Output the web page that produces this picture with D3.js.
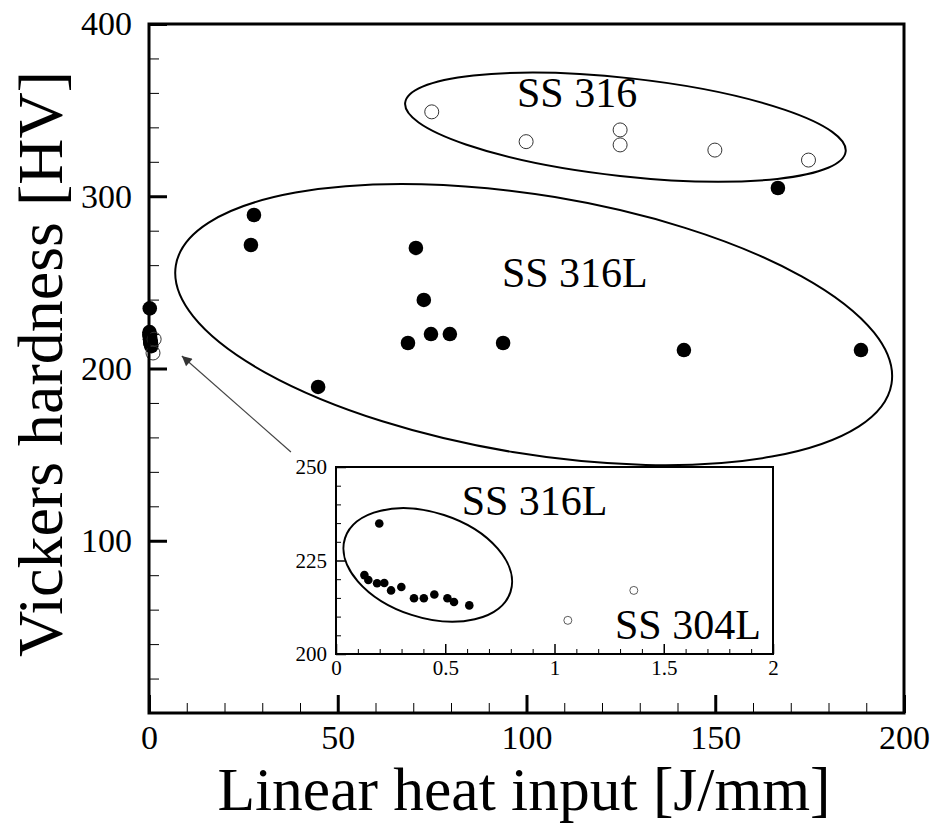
<!DOCTYPE html>
<html><head><meta charset="utf-8">
<script src="https://cdn.jsdelivr.net/npm/d3@7"></script>
<style>body{margin:0;background:#fff}svg{display:block}</style>
</head><body>
<svg id="c" width="931" height="823" font-family="Liberation Serif, Times New Roman, serif"></svg>
<script>
// ---- data ----
const ss316L_heat = [27.0, 27.8, 44.8, 68.6, 70.7, 72.8, 74.7, 79.7, 93.8, 141.7, 166.6, 188.6];
const ss316L_hv   = [271.7, 289.1, 189.3, 214.8, 270.0, 239.8, 220.0, 220.0, 214.8, 210.7, 304.8, 210.7];
const ss316_heat  = [74.9, 99.9, 124.8, 124.8, 149.9, 174.7];
const ss316_hv    = [349.0, 331.7, 338.5, 329.8, 326.8, 321.0];
// low heat input (inset)
const lowL_heat = [0.13, 0.148, 0.188, 0.221, 0.198, 0.252, 0.299, 0.357, 0.402, 0.45, 0.51, 0.54, 0.61];
const lowL_hv   = [221.1, 219.8, 218.9, 219.0, 234.9, 217.0, 217.9, 214.9, 214.9, 215.9, 214.9, 213.9, 213.0];
const ss304L_heat = [1.061, 1.363];
const ss304L_hv   = [209.0, 217.0];
const xTicks = [0, 50, 100, 150, 200];
const yTicks = [100, 200, 300, 400];
const insetXTicks = [0, 0.5, 1, 1.5, 2];
const insetYTicks = [200, 225, 250];

const SERIF = "Liberation Serif";
const svg = d3.select("#c");
const x = d3.scaleLinear().domain([0, 200]).range([149, 904]);
const y = d3.scaleLinear().domain([0, 400]).range([713, 24]);
const ix = d3.scaleLinear().domain([0, 2]).range([336, 773]);
const iy = d3.scaleLinear().domain([200, 250]).range([654, 467]);

function drawAxes(g, xs, ys, xt, yt, xMinorStep, yMinorStep, major, minor, fs, majW, xPad, yPad) {
  const [x0, x1] = xs.range(); const [y0, y1] = ys.range();
  const xd = xs.domain(), yd = ys.domain();
  const xMinor = d3.range(xd[0], xd[1] + 1e-9, xMinorStep).filter(v => !xt.some(t => Math.abs(t - v) < 1e-9));
  const yMinor = d3.range(yd[0], yd[1] + 1e-9, yMinorStep).filter(v => !yt.some(t => Math.abs(t - v) < 1e-9));
  const ax = g.append("g").attr("transform", `translate(0,${y0})`)
    .call(d3.axisBottom(xs).tickValues(xt).tickSize(-major).tickFormat(d3.format("")).tickPadding(xPad));
  ax.attr("font-family", SERIF).attr("font-size", fs);
  ax.select(".domain").remove();
  ax.selectAll("line").attr("stroke", "#000").attr("stroke-width", majW);
  ax.selectAll("text").attr("font-size", fs).attr("font-family", SERIF).attr("fill", "#000");
  const axm = g.append("g").attr("transform", `translate(0,${y0})`)
    .call(d3.axisBottom(xs).tickValues(xMinor).tickSize(-minor).tickFormat(""));
  axm.select(".domain").remove();
  axm.selectAll("line").attr("stroke", "#000").attr("stroke-width", 1);
  const ay = g.append("g").attr("transform", `translate(${x0},0)`)
    .call(d3.axisLeft(ys).tickValues(yt).tickSize(-major).tickFormat(d3.format("")).tickPadding(yPad));
  ay.attr("font-family", SERIF).attr("font-size", fs);
  ay.select(".domain").remove();
  ay.selectAll("line").attr("stroke", "#000").attr("stroke-width", majW);
  ay.selectAll("text").attr("font-size", fs).attr("font-family", SERIF).attr("fill", "#000");
  const aym = g.append("g").attr("transform", `translate(${x0},0)`)
    .call(d3.axisLeft(ys).tickValues(yMinor).tickSize(-minor).tickFormat(""));
  aym.select(".domain").remove();
  aym.selectAll("line").attr("stroke", "#000").attr("stroke-width", 1);
}

function ellipse(g, xs, ys, cx, cy, rx, ry, rot) {
  g.append("ellipse").attr("cx", 0).attr("cy", 0).attr("rx", rx).attr("ry", ry)
    .attr("transform", `translate(${xs(cx)},${ys(cy)}) rotate(${rot})`)
    .attr("fill", "none").attr("stroke", "#000").attr("stroke-width", 2);
}

// ---- main plot ----
const main = svg.append("g");
drawAxes(main, x, y, xTicks, yTicks, 10, 20, 18, 10, 34, 3, 12, 17);

ellipse(main, x, y, 126.2, 340.1, 221.6, 49.1, 6.3);
ellipse(main, x, y, 101.9, 225.5, 362.7, 129.2, 9.4);

// arrow
svg.append("defs").append("marker").attr("id", "ah").attr("viewBox", "0 0 10 10")
  .attr("refX", 10).attr("refY", 5).attr("markerWidth", 14).attr("markerHeight", 10)
  .attr("markerUnits", "userSpaceOnUse").attr("orient", "auto")
  .append("path").attr("d", "M0,0L10,5L0,10z").attr("fill", "#333");
main.append("line").attr("x1", x(37.6)).attr("y1", y(151.5)).attr("x2", x(8.7)).attr("y2", y(207.3))
  .attr("stroke", "#444").attr("stroke-width", 1.2).attr("marker-end", "url(#ah)");

const mainFilled = ss316L_heat.map((h, i) => [h, ss316L_hv[i]]).concat(lowL_heat.map((h, i) => [h, lowL_hv[i]]));
main.selectAll("circle.f").data(mainFilled).join("circle").attr("class", "f")
  .attr("cx", d => x(d[0])).attr("cy", d => y(d[1])).attr("r", 7.3).attr("fill", "#000");
const mainOpen = ss316_heat.map((h, i) => [h, ss316_hv[i]]).concat(ss304L_heat.map((h, i) => [h, ss304L_hv[i]]));
main.selectAll("circle.o").data(mainOpen).join("circle").attr("class", "o")
  .attr("cx", d => x(d[0])).attr("cy", d => y(d[1])).attr("r", 7).attr("fill", "none")
  .attr("stroke", "#333").attr("stroke-width", 1);

main.append("rect").attr("x", 149).attr("y", 24).attr("width", 755).attr("height", 689)
  .attr("fill", "none").attr("stroke", "#000").attr("stroke-width", 3);

main.append("text").attr("x", x(113.4)).attr("y", y(352)).attr("text-anchor", "middle").attr("font-size", 42).text("SS 316");
main.append("text").attr("x", x(112.8)).attr("y", y(247.3)).attr("text-anchor", "middle").attr("font-size", 42).text("SS 316L");

// ---- inset ----
const ins = svg.append("g");
ins.append("rect").attr("x", 336).attr("y", 467).attr("width", 437).attr("height", 187).attr("fill", "#fff");
drawAxes(ins, ix, iy, insetXTicks, insetYTicks, 0.1, 5, 10, 5, 21, 1.5, 6, 9);
ellipse(ins, ix, iy, 0.42, 223.8, 87, 52.5, 18);
ins.selectAll("circle.f").data(lowL_heat.map((h, i) => [h, lowL_hv[i]])).join("circle").attr("class", "f")
  .attr("cx", d => ix(d[0])).attr("cy", d => iy(d[1])).attr("r", 4.3).attr("fill", "#000");
ins.selectAll("circle.o").data(ss304L_heat.map((h, i) => [h, ss304L_hv[i]])).join("circle").attr("class", "o")
  .attr("cx", d => ix(d[0])).attr("cy", d => iy(d[1])).attr("r", 4).attr("fill", "none")
  .attr("stroke", "#333").attr("stroke-width", 0.8);
ins.append("rect").attr("x", 336).attr("y", 467).attr("width", 437).attr("height", 187)
  .attr("fill", "none").attr("stroke", "#000").attr("stroke-width", 2);
ins.append("text").attr("x", ix(0.575)).attr("y", iy(237.2)).attr("font-size", 42).text("SS 316L");
ins.append("text").attr("x", ix(1.277)).attr("y", iy(204)).attr("font-size", 42).text("SS 304L");

// ---- axis titles ----
svg.append("text").attr("x", 524).attr("y", 810).attr("text-anchor", "middle").attr("font-size", 61.5)
  .text("Linear heat input [J/mm]");
svg.append("text").attr("transform", "translate(62,364) rotate(-90)").attr("text-anchor", "middle").attr("font-size", 64)
  .text("Vickers hardness [HV]");
</script>
</body></html>
